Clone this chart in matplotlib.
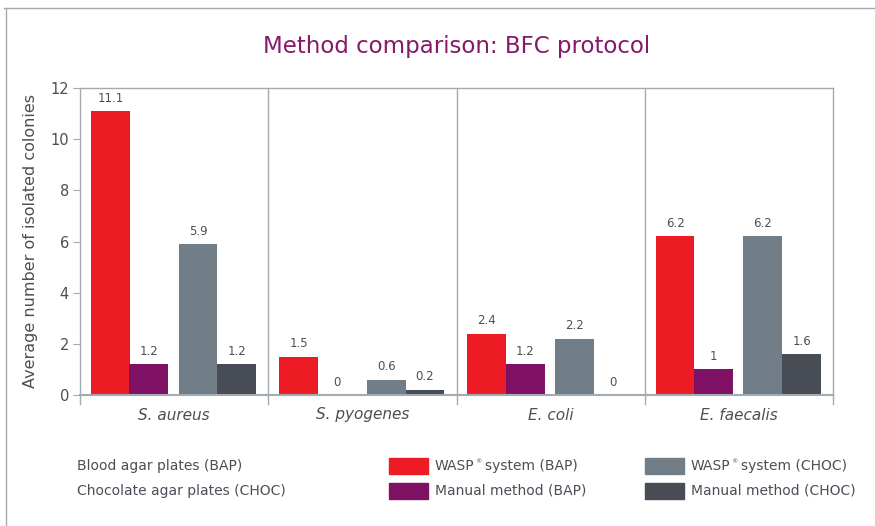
import numpy as np
import matplotlib.pyplot as plt
from matplotlib.patches import Rectangle
from matplotlib.lines import Line2D

# data
organisms = ["S. aureus", "S. pyogenes", "E. coli", "E. faecalis"]
wasp_bap = [11.1, 1.5, 2.4, 6.2]
manual_bap = [1.2, 0, 1.2, 1]
wasp_choc = [5.9, 0.6, 2.2, 6.2]
manual_choc = [1.2, 0.2, 0, 1.6]
series_labels = ["WASP® system (BAP)", "Manual method (BAP)",
                 "WASP® system (CHOC)", "Manual method (CHOC)"]
plate_labels = ["Blood agar plates (BAP)", "Chocolate agar plates (CHOC)"]
y_ticks = [0, 2, 4, 6, 8, 10, 12]

colors = ["#ed1c24", "#7f1164", "#717e87", "#484c54"]
text_color = "#4a4f57"
line_color = "#a3abb2"
title_color = "#86196a"

plt.rcParams["font.family"] = ["DejaVu Sans"]

fig = plt.figure(figsize=(8.75, 5.26), dpi=100)
ax = fig.add_axes([80 / 875, 1 - 395 / 526, (833 - 80) / 875, (395 - 88) / 526])

x = np.arange(len(organisms))
offsets = [-0.339, -0.135, 0.127, 0.333]
width = 0.206
for vals, off, c in zip([wasp_bap, manual_bap, wasp_choc, manual_choc], offsets, colors):
    bars = ax.bar(x + off, vals, width=width, color=c, zorder=2)
    for b, v in zip(bars, vals):
        ax.text(b.get_x() + b.get_width() / 2, v + 0.25, "{:g}".format(v),
                ha="center", va="bottom", fontsize=8.5, color=text_color)

ax.set_xlim(-0.5, len(organisms) - 0.5)
ax.set_ylim(0, 12)
ax.set_yticks(y_ticks)
ax.tick_params(axis="y", length=5, color=line_color, labelsize=10.5,
               labelcolor=text_color, pad=3)
ax.set_xticks(x)
ax.set_xticklabels(organisms, style="italic", fontsize=11, color=text_color)
ax.tick_params(axis="x", length=0, pad=9)
# group separators and the little downward ticks at boundaries
for b in np.arange(-0.5, len(organisms), 1):
    if -0.5 < b < len(organisms) - 0.5:
        ax.axvline(b, color=line_color, lw=1, zorder=1)
    ax.plot([b, b], [0, -0.35], color=line_color, lw=1, clip_on=False)
for s in ax.spines.values():
    s.set_color(line_color)
    s.set_linewidth(1)
ax.spines["bottom"].set_linewidth(1.5)
ax.set_ylabel("Average number of isolated colonies", fontsize=11.5, color=text_color, labelpad=9)

fig.text(457 / 875, 1 - 47 / 526, "Method comparison: BFC protocol",
         ha="center", va="center", fontsize=16.5, color=title_color)

# outer frame lines (top and left)
fig.add_artist(Line2D([4 / 875, 1], [1 - 8 / 526] * 2, color=line_color, lw=1))
fig.add_artist(Line2D([6 / 875] * 2, [0, 1 - 8 / 526], color=line_color, lw=1))

# legend
for i, t in enumerate(plate_labels):
    fig.text(77 / 875, 1 - (466 + 25 * i) / 526, t, ha="left", va="center",
             fontsize=10, color=text_color)

renderer = fig.canvas.get_renderer()


def legend_text(xp, yp, lab):
    # the registered mark is a tiny superscript in the reference
    if "®" not in lab:
        fig.text(xp / 875, 1 - yp / 526, lab, ha="left", va="center",
                 fontsize=10, color=text_color)
        return
    head, tail = lab.split("®")
    t1 = fig.text(xp / 875, 1 - yp / 526, head, ha="left", va="center",
                  fontsize=10, color=text_color)
    x1 = t1.get_window_extent(renderer).x1
    fig.text((x1 + 0.5) / 875, 1 - (yp - 4) / 526, "®", ha="left", va="center",
             fontsize=4.5, color=text_color)
    fig.text((x1 + 10) / 875, 1 - yp / 526, tail.strip(), ha="left", va="center",
             fontsize=10, color=text_color)


patch_x = [389, 389, 645, 645]
row_y = [466, 491, 466, 491]
for px, py, c, lab in zip(patch_x, row_y, colors, series_labels):
    fig.add_artist(Rectangle((px / 875, 1 - (py + 8) / 526), 39 / 875, 16 / 526,
                             color=c, transform=fig.transFigure))
    legend_text(px + 46, py, lab)

fig.savefig("out.png", dpi=100)
